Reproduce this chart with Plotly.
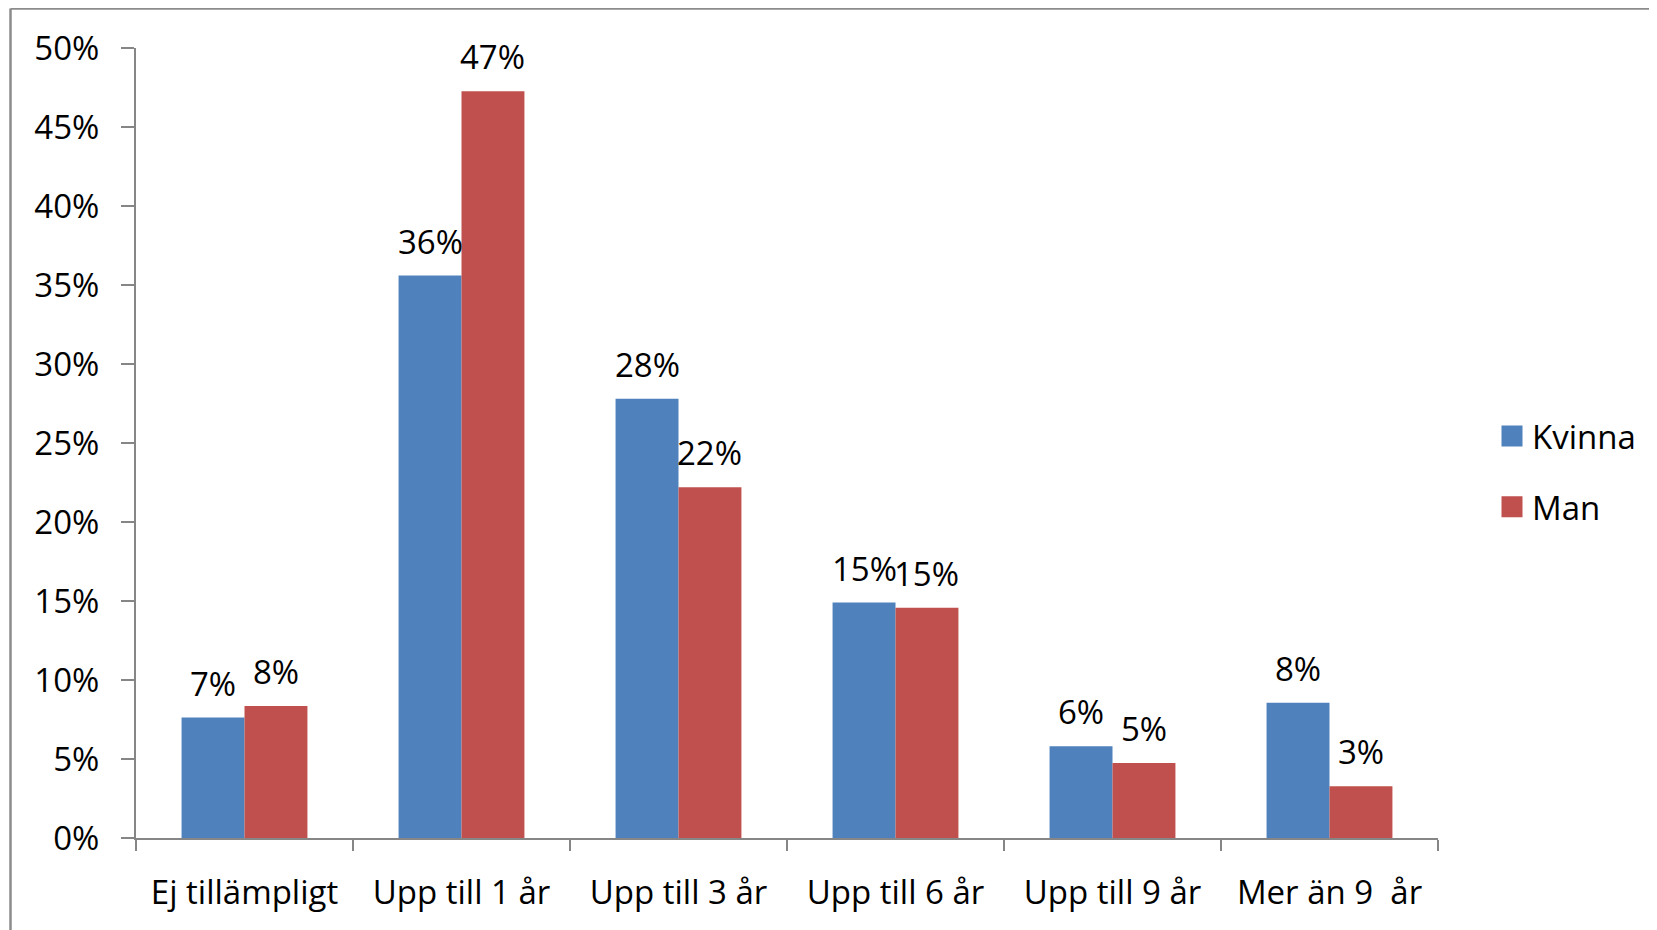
import plotly.graph_objects as go

categories = ["Ej tillämpligt", "Upp till 1 år", "Upp till 3 år", "Upp till 6 år", "Upp till 9 år", "Mer än 9  år"]
kvinna = [0.0762, 0.356, 0.278, 0.149, 0.058, 0.0856]
man = [0.0836, 0.4726, 0.222, 0.1457, 0.0475, 0.0328]
kvinna_labels = ["7%", "36%", "28%", "15%", "6%", "8%"]
man_labels = ["8%", "47%", "22%", "15%", "5%", "3%"]
y_ticks = [0, 0.05, 0.10, 0.15, 0.20, 0.25, 0.30, 0.35, 0.40, 0.45, 0.50]
y_tick_labels = ["0%", "5%", "10%", "15%", "20%", "25%", "30%", "35%", "40%", "45%", "50%"]

FONT = "Open Sans"
FS = 33
W, H = 1649, 922
ML, MR, MT, MB = 128, 219, 40, 92
BARGAP = 0.42
BLUE, RED = "#4F81BD", "#C0504D"

pw = W - ML - MR
ph = H - MT - MB
bar_w = pw / len(categories) * (1 - BARGAP) / 2

fig = go.Figure()
fig.add_trace(go.Bar(name="Kvinna", x=categories, y=kvinna, marker=dict(color=BLUE, line=dict(width=0)),
                     showlegend=False))
fig.add_trace(go.Bar(name="Man", x=categories, y=man, marker=dict(color=RED, line=dict(width=0)),
                     showlegend=False))
# legend proxies
fig.add_trace(go.Scatter(name="Kvinna", x=[categories[0]], y=[None], mode="markers", legendgroup="k",
                         marker=dict(symbol="square", size=16, color=BLUE, line=dict(color=BLUE, width=8))))
fig.add_trace(go.Scatter(name="Man", x=[categories[0]], y=[None], mode="markers", legendgroup="m",
                         marker=dict(symbol="square", size=16, color=RED, line=dict(color=RED, width=8))))

annotations = []
for cat, v, t in zip(categories, kvinna, kvinna_labels):
    annotations.append(dict(x=cat, y=v, xref="x", yref="y", text=t, showarrow=False,
                            xanchor="center", yanchor="bottom", xshift=-bar_w / 2, yshift=10,
                            font=dict(family=FONT, size=FS, color="#000000")))
for cat, v, t in zip(categories, man, man_labels):
    annotations.append(dict(x=cat, y=v, xref="x", yref="y", text=t, showarrow=False,
                            xanchor="center", yanchor="bottom", xshift=bar_w / 2, yshift=10,
                            font=dict(family=FONT, size=FS, color="#000000")))

fig.update_layout(
    width=W, height=H,
    margin=dict(l=ML, r=MR, t=MT, b=MB, autoexpand=False),
    paper_bgcolor="white", plot_bgcolor="white",
    barmode="group", bargap=BARGAP, bargroupgap=0,
    font=dict(family=FONT, size=FS, color="#000000"),
    legend=dict(x=(1484 - ML) / pw, y=1 - (400 - MT) / ph, xanchor="left", yanchor="top",
                font=dict(family=FONT, size=FS, color="#000000"),
                itemsizing="trace", traceorder="grouped", tracegroupgap=25,
                bgcolor="rgba(0,0,0,0)"),
    showlegend=True,
    annotations=annotations,
    xaxis=dict(type="category", showline=True, linecolor="#868686", linewidth=2,
               ticks="outside", tickson="boundaries", ticklen=11, tickwidth=2, tickcolor="#868686",
               showgrid=False, tickfont=dict(family=FONT, size=FS, color="#000000"),
               ticklabelstandoff=24),
    yaxis=dict(range=[0, 0.5], tickvals=y_ticks, ticktext=y_tick_labels, showline=True,
               linecolor="#868686", linewidth=2, ticks="outside", ticklen=13, tickwidth=2,
               tickcolor="#868686", showgrid=False, zeroline=False,
               tickfont=dict(family=FONT, size=FS, color="#000000"), ticklabelstandoff=15),
    shapes=[dict(type="line", xref="paper", yref="paper",
                 x0=(2.5 - ML) / pw, x1=(W + 20 - ML) / pw, y0=1 + (MT - 0.5) / ph, y1=1 + (MT - 0.5) / ph,
                 line=dict(color="#8C8C8C", width=2.5)),
            dict(type="line", xref="paper", yref="paper",
                 x0=(2.5 - ML) / pw, x1=(2.5 - ML) / pw, y0=1 + (MT - 0.5) / ph, y1=-(MB + 20) / ph,
                 line=dict(color="#8C8C8C", width=2.5))],
)
fig.write_html("out.html")
